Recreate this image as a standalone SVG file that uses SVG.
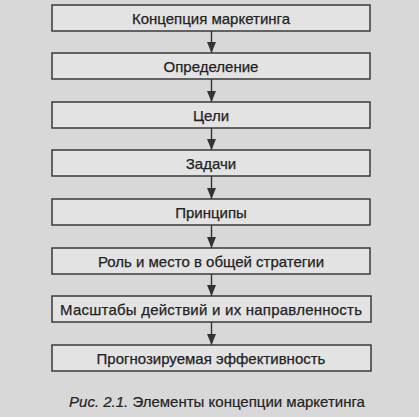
<svg xmlns="http://www.w3.org/2000/svg" width="419" height="417" viewBox="0 0 419 417">
<style>
.bg{fill:#d8d8d8}
.box{fill:#e3e3e3;stroke:#3a3a3a;stroke-width:1.5}
.lbl{font-family:"Liberation Sans",Arial,sans-serif;font-size:15px;fill:#222;stroke:#222;stroke-width:0.25;text-anchor:middle}
.con{stroke:#333;stroke-width:1.4;fill:none}
.cap{font-family:"Liberation Sans",Arial,sans-serif;font-size:15px;fill:#222;stroke:#222;stroke-width:0.2;text-anchor:middle}
</style>
<defs>
<marker id="ah" markerWidth="10" markerHeight="12" refX="11" refY="5" orient="auto" markerUnits="userSpaceOnUse">
<path d="M0,0.5 L11,5 L0,9.5 Z" fill="#333"/>
</marker>
</defs>
<rect class="bg" x="0" y="0" width="419" height="417"/>
<g id="connectors">
<line class="con" x1="211.5" y1="31" x2="211.5" y2="53" marker-end="url(#ah)"/>
<line class="con" x1="211.5" y1="79" x2="211.5" y2="102" marker-end="url(#ah)"/>
<line class="con" x1="211.5" y1="128" x2="211.5" y2="150" marker-end="url(#ah)"/>
<line class="con" x1="211.5" y1="176" x2="211.5" y2="199" marker-end="url(#ah)"/>
<line class="con" x1="211.5" y1="225" x2="211.5" y2="248" marker-end="url(#ah)"/>
<line class="con" x1="211.5" y1="274" x2="211.5" y2="296" marker-end="url(#ah)"/>
<line class="con" x1="211.5" y1="322" x2="211.5" y2="345" marker-end="url(#ah)"/>
</g>
<g id="n1"><rect class="box" x="52" y="5" width="318" height="26"/><text class="lbl" x="211" y="23.5">Концепция маркетинга</text></g>
<g id="n2"><rect class="box" x="52" y="53" width="318" height="26"/><text class="lbl" x="211" y="71.5">Определение</text></g>
<g id="n3"><rect class="box" x="52" y="102" width="318" height="26"/><text class="lbl" x="211" y="120.5">Цели</text></g>
<g id="n4"><rect class="box" x="52" y="150" width="318" height="26"/><text class="lbl" x="211" y="168.5">Задачи</text></g>
<g id="n5"><rect class="box" x="52" y="199" width="318" height="26"/><text class="lbl" x="211" y="217.5">Принципы</text></g>
<g id="n6"><rect class="box" x="52" y="248" width="318" height="26"/><text class="lbl" x="211" y="266.5">Роль и место в общей стратегии</text></g>
<g id="n7"><rect class="box" x="52" y="296" width="319" height="26"/><text class="lbl" x="211" y="314.5" textLength="302">Масштабы действий и их направленность</text></g>
<g id="n8"><rect class="box" x="52" y="345" width="319" height="26"/><text class="lbl" x="211" y="363.5">Прогнозируемая эффективность</text></g>
<text class="cap" x="217" y="407"><tspan font-style="italic">Рис. 2.1.</tspan> Элементы концепции маркетинга</text>
</svg>
